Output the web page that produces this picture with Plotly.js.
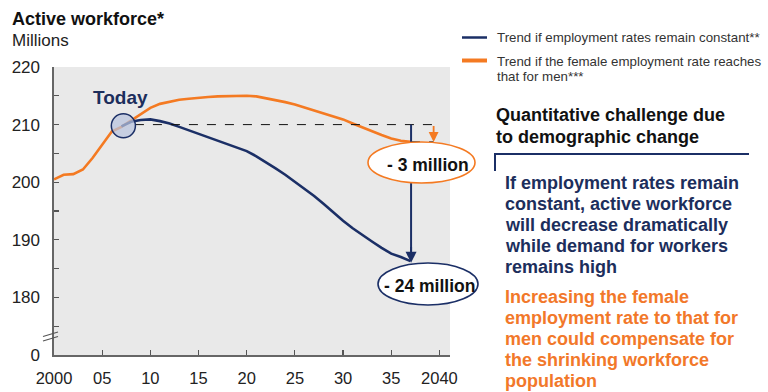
<!DOCTYPE html>
<html>
<head>
<meta charset="utf-8">
<script src="https://cdn.plot.ly/plotly-3.0.1.min.js"></script>
<style>
html,body{margin:0;padding:0;background:#fff;}
#chart{width:768px;height:392px;}
</style>
</head>
<body>
<div id="chart"></div>
<script>
// ---- Data ----
const yearsFemale = [2000,2001,2002,2003,2004,2005,2006,2007,2008,2009,2010,2011,2012,2013,2014,2015,2016,2017,2018,2019,2020,2021,2022,2023,2024,2025,2026,2027,2028,2029,2030,2031,2032,2033,2034,2035,2036,2037];
const valuesFemale = [200.5,201.3,201.4,202.2,204.2,206.6,208.8,209.6,210.7,211.9,212.9,213.6,214.0,214.3,214.5,214.7,214.8,214.9,214.95,215.0,215.0,214.9,214.6,214.3,213.9,213.5,213.0,212.5,212.0,211.5,210.9,210.2,209.5,208.8,208.2,207.6,207.2,207.0];
const yearsConstant = [2007,2008,2009,2010,2011,2012,2013,2014,2015,2016,2017,2018,2019,2020,2021,2022,2023,2024,2025,2026,2027,2028,2029,2030,2031,2032,2033,2034,2035,2036,2037];
const valuesConstant = [209.7,210.5,210.8,210.9,210.6,210.2,209.6,209.0,208.4,207.8,207.2,206.6,206.1,205.4,204.5,203.5,202.4,201.3,200.1,198.9,197.6,196.2,194.7,193.3,192.0,190.8,189.7,188.6,187.6,187.0,186.3];
const xTickVals = [2000,2005,2010,2015,2020,2025,2030,2035,2040];
const xTickText = ['2000','05','10','15','20','25','30','35','2040'];
const yTickVals = [170,180,190,200,210,220];     // 170 position shows the broken-axis "0"
const yTickText = ['0','180','190','200','210','220'];
const yMinorVals = [175,185,195,205,215];
const seriesNames = ['Trend if employment rates remain constant**','Trend if the female employment rate reaches','that for men***'];
const todayYear = 2007.2, todayValue = 209.8;
const baseValue = 210, femaleEnd = 207, constantEnd = 186;
const gapLabels = ['- 3 million','- 24 million'];
const headline = ['Quantitative challenge due','to demographic change'];
const blueText = ['If employment rates remain','constant, active workforce','will decrease dramatically','while demand for workers','remains high'];
const orangeText = ['Increasing the female','employment rate to that for','men could compensate for','the shrinking workforce','population'];

// ---- Styling ----
const NAVY = '#1b2f66';
const NAVY_T = '#1c2e5c';
const ORANGE = '#f47a22';
const ORANGE_T = '#f2782a';
const FONT = 'Liberation Sans, Arial, Helvetica, sans-serif';
const L = 54, T = 67, W = 396, H = 288;
const X = px => (px - L) / W;
const Y = py => (T + H - py) / H;

const traces = [
  {x: yearsFemale, y: valuesFemale, type: 'scatter', mode: 'lines', name: seriesNames[1],
   line: {color: ORANGE, width: 2.6}, showlegend: false, hoverinfo: 'skip'},
  {x: yearsConstant, y: valuesConstant, type: 'scatter', mode: 'lines', name: seriesNames[0],
   line: {color: NAVY, width: 2.6}, showlegend: false, hoverinfo: 'skip'}
];

const arrowX1 = 2037.06, arrowX2 = 2039.4;
const shapes = [
  {type: 'line', xref: 'x', yref: 'y', x0: 2008.4, x1: arrowX2, y0: baseValue, y1: baseValue, line: {color: '#111', width: 1, dash: 'dash'}},
  {type: 'line', xref: 'x', yref: 'y', x0: arrowX1, x1: arrowX2, y0: femaleEnd, y1: femaleEnd, line: {color: '#111', width: 1, dash: 'dash'}},
  {type: 'line', xref: 'x', yref: 'y', x0: arrowX1, x1: arrowX1, y0: baseValue, y1: constantEnd + 2, line: {color: NAVY, width: 2}},
  {type: 'circle', xref: 'x', yref: 'y', x0: todayYear - 1.25, x1: todayYear + 1.25, y0: todayValue - 2.1, y1: todayValue + 2.1,
   line: {color: NAVY, width: 1.5}, fillcolor: 'rgba(185,196,222,0.72)'},
  {type: 'circle', xref: 'paper', yref: 'paper', x0: X(368), x1: X(475), y0: Y(183), y1: Y(142), line: {color: ORANGE, width: 1.6}, fillcolor: '#fff'},
  {type: 'circle', xref: 'paper', yref: 'paper', x0: X(378), x1: X(478), y0: Y(305), y1: Y(263), line: {color: NAVY, width: 1.6}, fillcolor: '#fff'},
  {type: 'line', xref: 'paper', yref: 'paper', x0: X(43), x1: X(58), y0: Y(336.5), y1: Y(332), line: {color: '#555', width: 1.2}},
  {type: 'line', xref: 'paper', yref: 'paper', x0: X(43), x1: X(58), y0: Y(341), y1: Y(336.5), line: {color: '#555', width: 1.2}},
  {type: 'line', xref: 'paper', yref: 'paper', x0: X(462), x1: X(487), y0: Y(37.5), y1: Y(37.5), line: {color: NAVY, width: 2.5}},
  {type: 'line', xref: 'paper', yref: 'paper', x0: X(462), x1: X(487), y0: Y(60.5), y1: Y(60.5), line: {color: ORANGE, width: 4}},
  {type: 'line', xref: 'paper', yref: 'paper', x0: X(495), x1: X(749), y0: Y(154), y1: Y(154), line: {color: NAVY, width: 2}},
  {type: 'line', xref: 'paper', yref: 'paper', x0: X(495), x1: X(495), y0: Y(153), y1: Y(171), line: {color: NAVY, width: 2}}
];

function txt(text, px, py, size, color, bold, anchor) {
  return {text: bold ? '<b>' + text + '</b>' : text, xref: 'paper', yref: 'paper', x: X(px), y: Y(py),
    xanchor: anchor || 'left', yanchor: 'middle', showarrow: false,
    font: {family: FONT, size: size, color: color}};
}

const annotations = [
  txt('Active workforce*', 10, 19, 18, '#111', true),
  txt('Millions', 10, 40, 17, '#222', false),
  txt('Today', 120, 97.5, 19, NAVY_T, true, 'center'),
  txt(gapLabels[0], 428, 165, 17.5, '#111', true, 'center'),
  txt(gapLabels[1], 429, 285.5, 17.5, '#111', true, 'center'),
  txt(seriesNames[0], 495, 37.5, 13.3, '#333', false),
  txt(seriesNames[1], 495, 61.5, 13.3, '#333', false),
  txt(seriesNames[2], 495, 76.5, 13.3, '#333', false),
  txt(headline[0], 494, 115, 18, '#111', true),
  txt(headline[1], 494, 137, 18, '#111', true),
  {xref: 'x', yref: 'y', axref: 'x', ayref: 'y', x: arrowX1, y: constantEnd, ax: arrowX1, ay: constantEnd + 3,
   showarrow: true, arrowhead: 2, arrowsize: 1.1, arrowwidth: 2, arrowcolor: NAVY, text: ''},
  {xref: 'x', yref: 'y', axref: 'x', ayref: 'y', x: arrowX2, y: femaleEnd, ax: arrowX2, ay: baseValue,
   showarrow: true, arrowhead: 2, arrowsize: 1.1, arrowwidth: 1.8, arrowcolor: ORANGE, text: ''}
];
blueText.forEach((t, i) => annotations.push(txt(t, 503, 183 + i * 21, 18, NAVY_T, true)));
orangeText.forEach((t, i) => annotations.push(txt(t, 503, 297 + i * 21, 18, ORANGE_T, true)));

const layout = {
  width: 768, height: 392,
  margin: {l: L, r: 768 - L - W, t: T, b: 392 - T - H, pad: 0},
  paper_bgcolor: '#fff', plot_bgcolor: '#e9e9e9',
  font: {family: FONT, size: 17, color: '#222'},
  showlegend: false,
  xaxis: {range: [2000, 2041.1], tickmode: 'array', tickvals: xTickVals, ticktext: xTickText,
    ticks: 'inside', ticklen: 5, tickwidth: 1.2, tickcolor: '#555',
    showline: true, linecolor: '#666', linewidth: 1.6, showgrid: false, zeroline: false,
    ticklabelstandoff: 8, tickfont: {family: FONT, size: 16.5, color: '#222'}, fixedrange: true},
  yaxis: {range: [170, 220], tickmode: 'array', tickvals: yTickVals, ticktext: yTickText,
    ticks: 'inside', ticklen: 5, tickwidth: 1.2, tickcolor: '#555',
    minor: {tickmode: 'array', tickvals: yMinorVals, ticks: 'inside', ticklen: 5, tickwidth: 1.2, tickcolor: '#555'},
    showline: true, linecolor: '#666', linewidth: 1.6, showgrid: false, zeroline: false,
    ticklabelstandoff: 9, tickfont: {family: FONT, size: 17, color: '#222'}, fixedrange: true},
  shapes: shapes,
  annotations: annotations
};

Plotly.newPlot('chart', traces, layout, {displayModeBar: false, staticPlot: true});
</script>
</body>
</html>
